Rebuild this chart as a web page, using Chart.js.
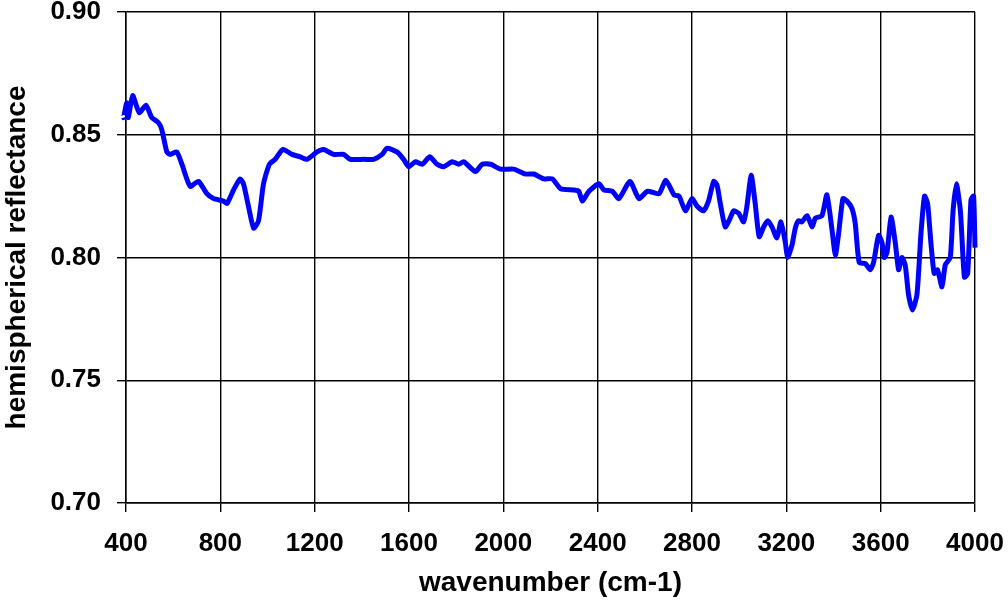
<!DOCTYPE html>
<html>
<head>
<meta charset="utf-8">
<script src="https://cdn.jsdelivr.net/npm/chart.js@4"></script>
<style>
  html, body { margin: 0; padding: 0; background: #fff; }
  #wrap { width: 1008px; height: 600px; }
</style>
</head>
<body>
<div id="wrap"><canvas id="myChart" width="1008" height="600"></canvas></div>
<script>
/* data */
const wavenumber = [
  384, 389, 403, 410, 428, 456, 485, 509, 537, 552, 573, 587, 615, 637, 672, 707, 743, 771, 813, 828,
  856, 884, 898, 919, 941, 962, 983, 1008, 1033, 1065, 1104, 1139, 1167, 1210, 1238, 1280, 1323, 1351, 1408, 1450,
  1486, 1507, 1549, 1577, 1599, 1627, 1656, 1688, 1719, 1747, 1783, 1811, 1832, 1882, 1910, 1946, 1988, 2044, 2094, 2129,
  2172, 2208, 2243, 2299, 2320, 2335, 2363, 2405, 2427, 2462, 2490, 2537, 2575, 2611, 2660, 2689, 2724, 2745, 2772, 2800,
  2821, 2849, 2870, 2892, 2906, 2920, 2941, 2962, 2976, 2998, 3019, 3033, 3051, 3068, 3085, 3104, 3121, 3139, 3160, 3177,
  3196, 3205, 3224, 3238, 3252, 3266, 3288, 3309, 3323, 3351, 3372, 3394, 3408, 3422, 3440, 3457, 3478, 3492, 3509, 3535,
  3556, 3570, 3591, 3606, 3615, 3627, 3644, 3662, 3676, 3690, 3704, 3718, 3735, 3754, 3771, 3786, 3799, 3813, 3827, 3841,
  3860, 3874, 3895, 3907, 3921, 3938, 3955, 3969, 3983, 3994, 4000
];
const reflectance = [
  0.868, 0.857, 0.863, 0.857, 0.866, 0.859, 0.862, 0.857, 0.855, 0.852, 0.843, 0.842, 0.843, 0.838, 0.829, 0.831, 0.826, 0.824, 0.823, 0.822,
  0.8275, 0.832, 0.830, 0.821, 0.812, 0.815, 0.830, 0.838, 0.840, 0.844, 0.842, 0.841, 0.840, 0.843, 0.844, 0.842, 0.842, 0.840, 0.840, 0.840,
  0.842, 0.8445, 0.843, 0.840, 0.837, 0.839, 0.838, 0.841, 0.838, 0.837, 0.839, 0.838, 0.839, 0.835, 0.838, 0.838, 0.836, 0.836, 0.834, 0.834,
  0.832, 0.832, 0.828, 0.8275, 0.827, 0.823, 0.827, 0.830, 0.8275, 0.827, 0.824, 0.831, 0.824, 0.827, 0.826, 0.8315, 0.8255, 0.825, 0.819, 0.824,
  0.821, 0.819, 0.823, 0.831, 0.8295, 0.822, 0.8125, 0.816, 0.819, 0.818, 0.8145, 0.821, 0.8335, 0.822, 0.8085, 0.8125, 0.815, 0.8125, 0.808, 0.8145,
  0.806, 0.800, 0.805, 0.812, 0.815, 0.8145, 0.817, 0.8125, 0.816, 0.817, 0.8255, 0.811, 0.801, 0.810, 0.824, 0.823, 0.820, 0.814, 0.798, 0.7975,
  0.795, 0.798, 0.809, 0.806, 0.800, 0.802, 0.8165, 0.806, 0.795, 0.800, 0.797, 0.785, 0.7786, 0.785, 0.810, 0.825, 0.822, 0.806, 0.7935, 0.795,
  0.788, 0.797, 0.800, 0.819, 0.830, 0.819, 0.792, 0.7935, 0.8235, 0.825, 0.804
];
const xTicks = [400, 800, 1200, 1600, 2000, 2400, 2800, 3200, 3600, 4000];
const yTicks = [0.70, 0.75, 0.80, 0.85, 0.90];

const fontFam = '"Liberation Sans", Arial, Helvetica, sans-serif';

var ctx = document.getElementById('myChart').getContext('2d');
var myChart = new Chart(ctx, {
    type: 'line',
    data: {
        datasets: [{
            label: 'hemispherical reflectance',
            data: wavenumber.map((w, i) => ({x: w, y: reflectance[i]})),
            borderColor: '#0000ff',
            borderWidth: 5,
            pointRadius: 0,
            tension: 0.2,
            clip: false
        }]
    },
    options: {
        responsive: false,
        animation: false,
        layout: { padding: { top: 12, right: 33, left: 0, bottom: 0 } },
        plugins: { legend: { display: false }, tooltip: { enabled: false } },
        scales: {
            x: {
                type: 'linear',
                min: xTicks[0],
                max: xTicks[xTicks.length - 1],
                afterBuildTicks: s => { s.ticks = xTicks.map(v => ({value: v})); },
                afterFit: s => { s.height = 97; s.paddingLeft = 0; s.paddingRight = 0; },
                grid: { color: '#000', lineWidth: 1.4, tickLength: 9, drawTicks: true },
                border: { color: '#000', width: 1.5 },
                ticks: {
                    color: '#000', padding: 16, maxRotation: 0,
                    callback: v => String(v),
                    font: { family: fontFam, size: 26, weight: 'bold' }
                },
                title: {
                    display: true, text: 'wavenumber (cm-1)', color: '#000',
                    padding: { top: 0, bottom: 0 },
                    font: { family: fontFam, size: 28, weight: 'bold' }
                }
            },
            y: {
                min: yTicks[0],
                max: yTicks[yTicks.length - 1],
                afterBuildTicks: s => { s.ticks = yTicks.map(v => ({value: v})); },
                afterFit: s => { s.width = 126; s.paddingTop = 0; s.paddingBottom = 0; },
                grid: { color: '#000', lineWidth: 1.4, tickLength: 9, drawTicks: true },
                border: { color: '#000', width: 1.5 },
                ticks: {
                    color: '#000', padding: 16,
                    callback: v => v.toFixed(2),
                    font: { family: fontFam, size: 26, weight: 'bold' }
                },
                title: {
                    display: true, text: 'hemispherical reflectance', color: '#000',
                    padding: { top: 0, bottom: 0 },
                    font: { family: fontFam, size: 28, weight: 'bold' }
                }
            }
        }
    }
});
</script>
</body>
</html>
